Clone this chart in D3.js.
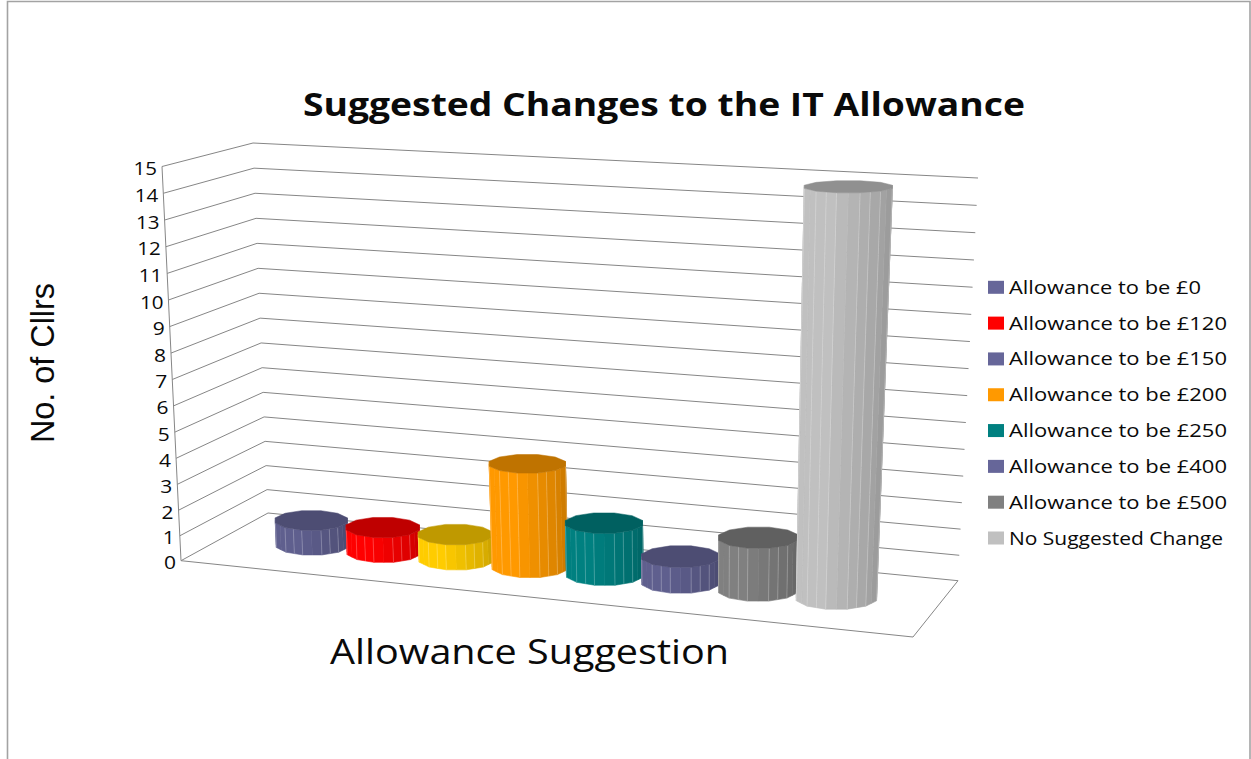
<!DOCTYPE html>
<html><head><meta charset="utf-8">
<script src="https://cdn.jsdelivr.net/npm/d3@7/dist/d3.min.js"></script>
<style>html,body{margin:0;background:#fff}svg{display:block}text{font-family:"Open Sans",sans-serif;fill:#0a0a0a}</style>
</head><body><svg id="c" width="1251" height="759"></svg>
<script>
const categories=["Allowance to be £0","Allowance to be £120","Allowance to be £150","Allowance to be £200","Allowance to be £250","Allowance to be £400","Allowance to be £500","No Suggested Change"];
const values=[1,1,1,4,2,1,2,15];
const barColors=["#666699","#ff0000","#ffcc00","#ff9900","#008080","#666699","#808080","#c0c0c0"];
const legendColors=["#666699","#ff0000","#666699","#ff9900","#008080","#666699","#808080","#c0c0c0"];
const yTicks=d3.range(0,16);
const titleText="Suggested Changes to the IT Allowance";
const xTitle="Allowance Suggestion";
const yTitle="No. of Cllrs";

const svg=d3.select("#c");
// Projected box corners
const floorQ={fl:[181,560.7],fr:[913,637],br:[958,580.7],bl:[268,513]};
const topQ={fl:[162,166.5],fr:[938,208],br:[978,178],bl:[253,143]};
function homography(q){
  const [x0,y0]=q.fl,[x1,y1]=q.fr,[x2,y2]=q.br,[x3,y3]=q.bl;
  const dx1=x1-x2,dx2=x3-x2,sx=x0-x1+x2-x3,dy1=y1-y2,dy2=y3-y2,sy=y0-y1+y2-y3;
  const d=dx1*dy2-dx2*dy1,g=(sx*dy2-dx2*sy)/d,h=(dx1*sy-sx*dy1)/d;
  const a=x1-x0+g*x1,b=x3-x0+h*x3,c=x0,e=y1-y0+g*y1,f=y3-y0+h*y3;
  return (u,v)=>{const w=g*u+h*v+1;return [(a*u+b*v+c)/w,(e*u+f*v+y0)/w];};
}
const Hf=homography(floorQ),Ht=homography(topQ);
const yS=d3.scalePow().exponent(1.02).domain([0,15]).range([0,1]);
const P=(u,v,val)=>{const a=Hf(u,v),b=Ht(u,v),k=yS(val);return [a[0]+(b[0]-a[0])*k,a[1]+(b[1]-a[1])*k];};

// border
svg.append("path").attr("d","M7.5,759V1.5H1250V759").attr("fill","none").attr("stroke","#a3a3a3").attr("stroke-width",1.6);

// walls
const grid=svg.append("g").attr("fill","none").attr("stroke","#868686").attr("stroke-width",1);
const line=d3.line();
yTicks.forEach(t=>{
  grid.append("path").attr("d",line([P(0,0,t),P(0,1,t),P(1,1,t)]));
});
grid.append("path").attr("d",line([P(0,0,0),P(1,0,0),P(1,1,0)]));
grid.append("path").attr("d",line([P(0,0,0),P(0,0,15)]));

// tick labels
svg.append("g").selectAll("text").data(yTicks).join("text")
  .attr("x",t=>P(0,0,t)[0]-5).attr("y",t=>P(0,0,t)[1]+8.5)
  .attr("text-anchor","end").attr("font-size",17.5)
  .attr("textLength",t=>t>9?23.5:12).attr("lengthAdjust","spacingAndGlyphs").text(t=>t);

// cylinders
const band=d3.scaleBand().domain(categories).range([-0.002,1.0]).paddingInner(0).paddingOuter(0.75);
const shade=(col,k)=>{const c=d3.rgb(col);return d3.rgb(c.r*k,c.g*k,c.b*k).formatHex();};
const SIDES=12,SUB=2,rv=0.215,vc=0.5;
function ring(u,ru,val){
  const c=P(u,vc,val),xr=(P(u+ru,vc,val)[0]-P(u-ru,vc,val)[0])/2,
        yr=Math.abs(P(u,vc+rv,val)[1]-P(u,vc-rv,val)[1])/2;
  return d3.range(SIDES).map(i=>{const t=(i+0.5)/SIDES*2*Math.PI;return [c[0]+xr*Math.cos(t),c[1]+yr*Math.sin(t)];});
}
const mix=(a,b,k)=>[a[0]+(b[0]-a[0])*k,a[1]+(b[1]-a[1])*k];
const bars=svg.append("g");
categories.forEach((cat,i)=>{
  const u=band(cat)+band.bandwidth()/2,ru=band.bandwidth()*0.525,col=barColors[i];
  const bot=ring(u,ru,0),top=ring(u,ru,values[i]),g=bars.append("g");
  // visible front arc: from the right flank (index -1) to the left flank (index SIDES/2)
  const idx=d3.range(-1,SIDES/2).map(j=>(j+SIDES)%SIDES);
  const n=idx.length;
  idx.forEach((j,q)=>{
    const a=(j+1)%SIDES;
    for(let s=0;s<SUB;s++){
      const f=1-(q+(s+0.5)/SUB)/n,k=f<0.4?1:1-0.27*(f-0.4)/0.6,c=shade(col,k*(col==="#666699"?0.93:1));
      const poly=[mix(bot[j],bot[a],s/SUB),mix(bot[j],bot[a],(s+1)/SUB),mix(top[j],top[a],(s+1)/SUB),mix(top[j],top[a],s/SUB)];
      g.append("path").attr("d",line(poly)+"Z").attr("fill",c).attr("stroke",c).attr("stroke-width",0.6);
      if((s>0||q>0)&&(q*SUB+s)%4!==3) g.append("path").attr("d",line([poly[0],poly[3]])).attr("stroke","#fff").attr("stroke-opacity",0.28).attr("stroke-width",0.8).attr("fill","none");
    }
  });
  g.append("path").attr("d",line(top)+"Z").attr("fill",shade(col,0.75)).attr("stroke",shade(col,0.75)).attr("stroke-width",0.5);
});

// titles
const label=(txt,x,y,size,len,extra)=>{
  const t=svg.append("text").attr("x",x).attr("y",y).attr("font-size",size).attr("textLength",len).attr("lengthAdjust","spacingAndGlyphs").text(txt);
  if(extra) extra(t); return t;
};
label(titleText,303,116,33,722,t=>t.attr("font-weight",700));
label(xTitle,330,664,34,399);
svg.append("text").attr("transform","translate(54,443) rotate(-90)").attr("font-size",33).style("font-family","'Liberation Sans',sans-serif").attr("textLength",160).attr("lengthAdjust","spacingAndGlyphs").text(yTitle);

// legend
const legendY=d3.scalePoint().domain(categories).range([287.3,538]);
const leg=svg.append("g").selectAll("g").data(categories).join("g").attr("transform",d=>`translate(0,${legendY(d)})`);
leg.append("rect").attr("x",988).attr("y",-6.5).attr("width",16).attr("height",13).attr("fill",(d,i)=>legendColors[i]);
leg.append("text").attr("x",1009).attr("y",6.5).attr("font-size",17.5)
  .attr("textLength",(d,i)=>i===0?192:i===7?214:218).attr("lengthAdjust","spacingAndGlyphs").text(d=>d);
</script></body></html>
